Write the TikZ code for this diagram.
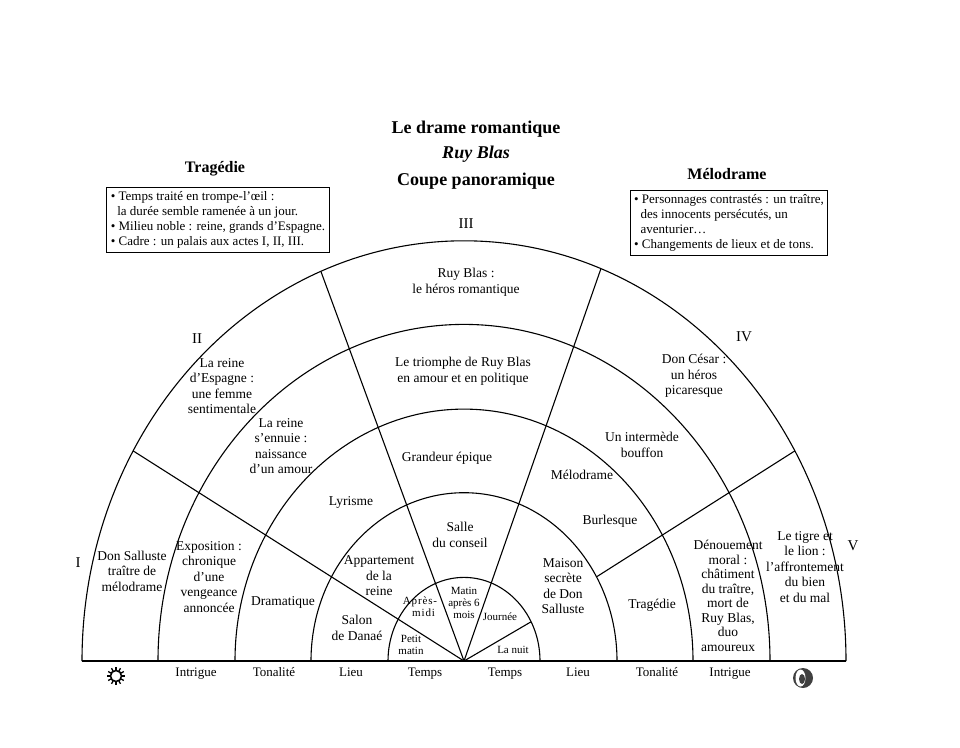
\documentclass[tikz,border=0pt]{standalone}
\usepackage{fontspec}
\setmainfont{Liberation Serif}
\usetikzlibrary{calc}
\newcommand{\bodyfont}{\fontsize{13.5}{15.5}\selectfont}
\newcommand{\smallfont}{\fontsize{11}{12}\selectfont}
\newcommand{\boxfont}{\fontsize{13}{15}\selectfont}
\tikzset{
  lbl/.style={align=center,font=\bodyfont,inner sep=0pt},
  sml/.style={align=center,font=\smallfont,inner sep=0pt},
  hdr/.style={font=\fontsize{18}{20}\selectfont\bfseries,inner sep=0pt},
  act/.style={font=\fontsize{15}{16}\selectfont,inner sep=0pt},
  info/.style={draw,line width=0.9pt,align=left,font=\boxfont,inner sep=4pt},
  ring/.style={line width=1.1pt},
}
\begin{document}
\begin{tikzpicture}[x=1pt,y=-1pt]
\path[use as bounding box] (0,0) rectangle (960,747);
\coordinate (C) at (464,661);
% rings
\foreach \r in {76,153,229,306,382}
  \draw[ring] ($(C)+(-\r,0)$) arc[start angle=180,end angle=360,x radius=\r,y radius=1.1*\r];
\coordinate (bL) at (82,661);
\coordinate (bR) at (846,661);
\draw[ring] (bL) -- (bR);
% spokes
\coordinate (sL) at ($(C)+({382*cos(112)},{-420.2*sin(112)})$);
\coordinate (sR) at ($(C)+({382*cos(69)},{-420.2*sin(69)})$);
\coordinate (dL) at ($(C)+({382*cos(150)},{-420.2*sin(150)})$);
\coordinate (dR) at ($(C)+({382*cos(30)},{-420.2*sin(30)})$);
\coordinate (dRin) at ($(C)+({153*cos(30)},{-168.3*sin(30)})$);
\coordinate (nuit) at ($(C)+({76*cos(28)},{-83.6*sin(28)})$);
\draw[ring] (C) -- (sL);
\draw[ring] (C) -- (sR);
\draw[ring] (C) -- (dL);
\draw[ring] (dRin) -- (dR);
\draw[ring] (C) -- (nuit);
% titles
\node[hdr] (title) at (476,129) {Le drame romantique};
\node[hdr,font=\fontsize{18}{20}\selectfont\bfseries\itshape] (play) at (476,154) {Ruy Blas};
\node[hdr] (coupe) at (476,181) {Coupe panoramique};
\node[hdr,font=\fontsize{16}{18}\selectfont\bfseries] (trag) at (215,169) {Tragédie};
\node[hdr,font=\fontsize{16}{18}\selectfont\bfseries] (melo) at (727,174) {Mélodrame};
\node[info] (tragBox) at (218,220) {• Temps traité en trompe-l'œil :\\
\ \ la durée semble ramenée à un jour.\\
• Milieu noble : reine, grands d'Espagne.\\
• Cadre : un palais aux actes I, II, III.};
\node[info] (meloBox) at (729,223) {• Personnages contrastés : un traître,\\
\ \ des innocents persécutés, un\\
\ \ aventurier\dots\\
• Changements de lieux et de tons.};
% acts
\node[act] (actI) at (78,563) {I};
\node[act] (actII) at (197,339) {II};
\node[act] (actIII) at (466,224) {III};
\node[act] (actIV) at (744,337) {IV};
\node[act] (actV) at (853,546) {V};
% outer ring
\node[lbl] (heros) at (466,282) {Ruy Blas :\\le héros romantique};
\node[lbl] (reineEsp) at (222,386) {La reine\\d'Espagne :\\une femme\\sentimentale};
\node[lbl] (cesar) at (694,376) {Don César :\\un héros\\picaresque};
\node[lbl] (salluste) at (132,571) {Don Salluste\\traître de\\mélodrame};
\node[lbl] (tigre) at (805,567) {Le tigre et\\le lion :\\l'affrontement\\du bien\\et du mal};
% intrigue ring
\node[lbl] (triomphe) at (463,371) {Le triomphe de Ruy Blas\\en amour et en politique};
\node[lbl] (ennui) at (281,446) {La reine\\s'ennuie :\\naissance\\d'un amour};
\node[lbl] (bouffon) at (642,445) {Un intermède\\bouffon};
\node[lbl] (expo) at (209,577) {Exposition :\\chronique\\d'une\\vengeance\\annoncée};
\node[lbl,font=\fontsize{13.5}{14.5}\selectfont] (denoue) at (728,596) {Dénouement\\moral :\\châtiment\\du traître,\\mort de\\Ruy Blas,\\duo\\amoureux};
% tonalite ring
\node[lbl] (epique) at (447,458) {Grandeur épique};
\node[lbl] (lyrisme) at (351,502) {Lyrisme};
\node[lbl] (melod) at (582,475) {Mélodrame};
\node[lbl] (burl) at (610,521) {Burlesque};
\node[lbl] (drama) at (283,602) {Dramatique};
\node[lbl] (tragT) at (652,605) {Tragédie};
% lieu ring
\node[lbl] (conseil) at (460,535) {Salle\\du conseil};
\node[lbl] (appart) at (379,576) {Appartement\\de la\\reine};
\node[lbl] (danae) at (357,628) {Salon\\de Danaé};
\node[lbl] (maison) at (563,586) {Maison\\secrète\\de Don\\Salluste};
% temps ring
\node[sml] (matin6) at (464,603) {Matin\\après 6\\mois};
\node[sml,font=\smallfont\addfontfeature{LetterSpace=8}] (aprem) at (420,607) {Après-\\\ \ midi};
\node[sml] (petit) at (411,645) {Petit\\matin};
\node[sml] (journee) at (500,617) {Journée};
\node[sml] (lanuit) at (513,650) {La nuit};
% bottom labels
\foreach \x/\t [count=\i] in {196/Intrigue,274/Tonalité,351/Lieu,425/Temps,505/Temps,578/Lieu,657/Tonalité,730/Intrigue}
  \node[lbl,font=\fontsize{13}{14}\selectfont,anchor=base] (bot\i) at (\x,676) {\t};
% sun and moon
\coordinate (sun) at (116,676);
\foreach \a in {0,30,...,330}
  \draw[line width=1.3pt] ($(sun)+(\a:5)$) -- ($(sun)+(\a:9)$);
\draw[line width=1.5pt] (sun) circle (5.5);
\coordinate (moon) at (803,678);
\fill[black!75] (moon) circle (10);
\fill[white] ($(moon)+(-2.5,0)$) ellipse (5 and 8.5);
\fill[black!75] ($(moon)+(-1,1)$) ellipse (3 and 5);
\end{tikzpicture}
\end{document}
